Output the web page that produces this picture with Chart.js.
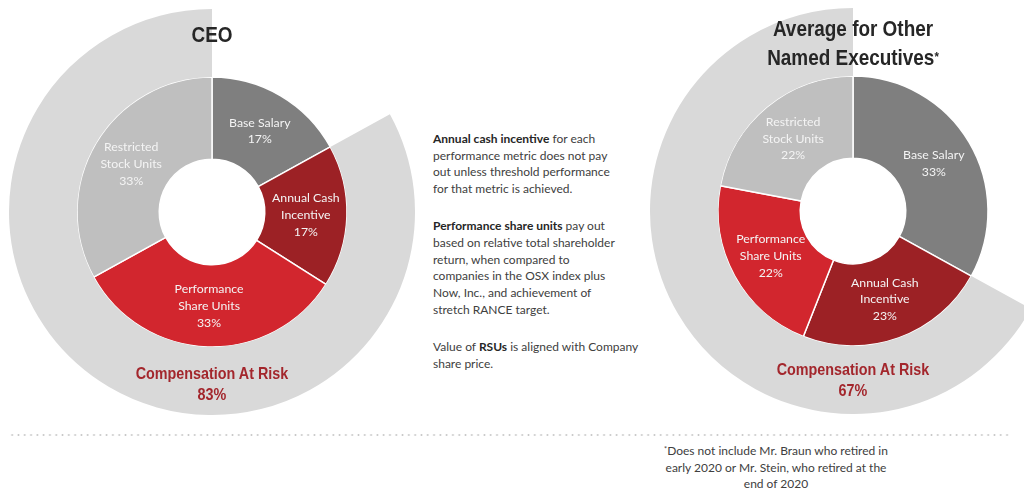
<!DOCTYPE html>
<html>
<head>
<meta charset="utf-8">
<script src="https://cdn.jsdelivr.net/npm/chart.js@4"></script>
<style>
  html, body { margin: 0; padding: 0; background: #fff; }
  body { width: 1024px; height: 500px; position: relative; overflow: hidden; }
  .chartBox { position: absolute; width: 406px; height: 406px; }
  .title { position: absolute; transform: translateX(-50%) scaleX(0.86); text-align: center; white-space: nowrap;
    font-family: "Liberation Sans Narrow", "Arial Narrow", "Liberation Sans", sans-serif; font-weight: bold;
    color: #262626; font-size: 22px; line-height: 29px; z-index: 2; }
  .risk { position: absolute; transform: translateX(-50%) scaleX(0.87); text-align: center; white-space: nowrap;
    font-family: "Liberation Sans Narrow", "Arial Narrow", "Liberation Sans", sans-serif; font-weight: bold;
    color: #a3262c; font-size: 16.5px; line-height: 21px; z-index: 2; }
  .notes { position: absolute; left: 433px; top: 131px; font-family: Lato, "Open Sans", sans-serif;
    font-size: 12px; line-height: 16.7px; color: #404040; white-space: nowrap; }
  .notes p { margin: 0 0 20.5px 0; }
  .notes b { color: #262626; }
  .dots { position: absolute; left: 9px; top: 434px; width: 1000px; height: 2px;
    background-image: radial-gradient(circle, #c8c8c8 0.9px, transparent 1.1px);
    background-size: 6.3px 2px; }
  .foot { position: absolute; left: 776px; top: 443px; transform: translateX(-50%); text-align: center;
    font-family: Lato, "Open Sans", sans-serif; font-size: 12px; line-height: 16.7px; color: #404040; white-space: nowrap; }
  sup { font-size: 60%; vertical-align: top; position: relative; top: -1px; }
</style>
</head>
<body>

<div class="chartBox" style="left:9px; top:9px;"><canvas id="ceo_chart"></canvas></div>
<div class="chartBox" style="left:650px; top:8px;"><canvas id="neo_chart"></canvas></div>

<div class="title" style="left:212px; top:20px;">CEO</div>
<div class="title" style="left:853px; top:14px;">Average for Other<br>Named Executives<sup>*</sup></div>

<div class="risk" style="left:212px; top:363px;">Compensation At Risk<br>83%</div>
<div class="risk" style="left:853px; top:359px;">Compensation At Risk<br>67%</div>

<div class="notes">
  <p><b>Annual cash incentive</b> for each<br>performance metric does not pay<br>out unless threshold performance<br>for that metric is achieved.</p>
  <p><b>Performance share units</b> pay out<br>based on relative total shareholder<br>return, when compared to<br>companies in the OSX index plus<br>Now, Inc., and achievement of<br>stretch RANCE target.</p>
  <p>Value of <b>RSUs</b> is aligned with Company<br>share price.</p>
</div>

<div class="dots"></div>
<div class="foot"><sup>*</sup>Does not include Mr. Braun who retired in<br>early 2020 or Mr. Stein, who retired at the<br>end of 2020</div>

<script>
// data
var sliceLabels = [["Base Salary"], ["Annual Cash", "Incentive"], ["Performance", "Share Units"], ["Restricted", "Stock Units"]];
var ceoValues = [17, 17, 33, 33];
var neoValues = [33, 23, 22, 22];
var ceoAtRisk = 83;
var neoAtRisk = 67;

var sliceColors = ['#7f7f7f', '#9c2125', '#d2262e', '#bfbfbf'];
var riskColors = ['rgba(0,0,0,0)', '#d9d9d9'];

// draws the slice captions in the middle of each arc
var sliceText = {
  id: 'sliceText',
  afterDatasetsDraw: function (chart) {
    var ctx = chart.ctx;
    var meta = chart.getDatasetMeta(1);
    var values = chart.data.datasets[1].data;
    ctx.save();
    ctx.font = '12.3px Lato, "Open Sans", sans-serif';
    ctx.fillStyle = '#f4f4f4';
    ctx.textAlign = 'center';
    ctx.textBaseline = 'middle';
    meta.data.forEach(function (arc, i) {
      var p = arc.getCenterPoint();
      var lines = chart.data.labels[i].concat([values[i] + '%']);
      var top = p.y - (lines.length - 1) * 16.7 / 2;
      lines.forEach(function (t, j) {
        ctx.fillText(t, p.x, top + j * 16.7);
      });
    });
    ctx.restore();
  }
};

function makeChart(id, values, atRisk) {
  var ctx = document.getElementById(id).getContext('2d');
  return new Chart(ctx, {
    type: 'doughnut',
    data: {
      labels: sliceLabels,
      datasets: [{
        data: [100 - atRisk, atRisk],
        backgroundColor: riskColors,
        borderWidth: 0,
        weight: 67
      }, {
        data: values,
        backgroundColor: sliceColors,
        borderColor: '#ffffff',
        borderWidth: 1.5,
        weight: 81
      }]
    },
    options: {
      responsive: true,
      maintainAspectRatio: false,
      animation: false,
      cutout: '26%',
      layout: { padding: 0 },
      plugins: {
        legend: { display: false },
        tooltip: { enabled: false }
      }
    },
    plugins: [sliceText]
  });
}

makeChart('ceo_chart', ceoValues, ceoAtRisk);
makeChart('neo_chart', neoValues, neoAtRisk);
</script>
</body>
</html>
